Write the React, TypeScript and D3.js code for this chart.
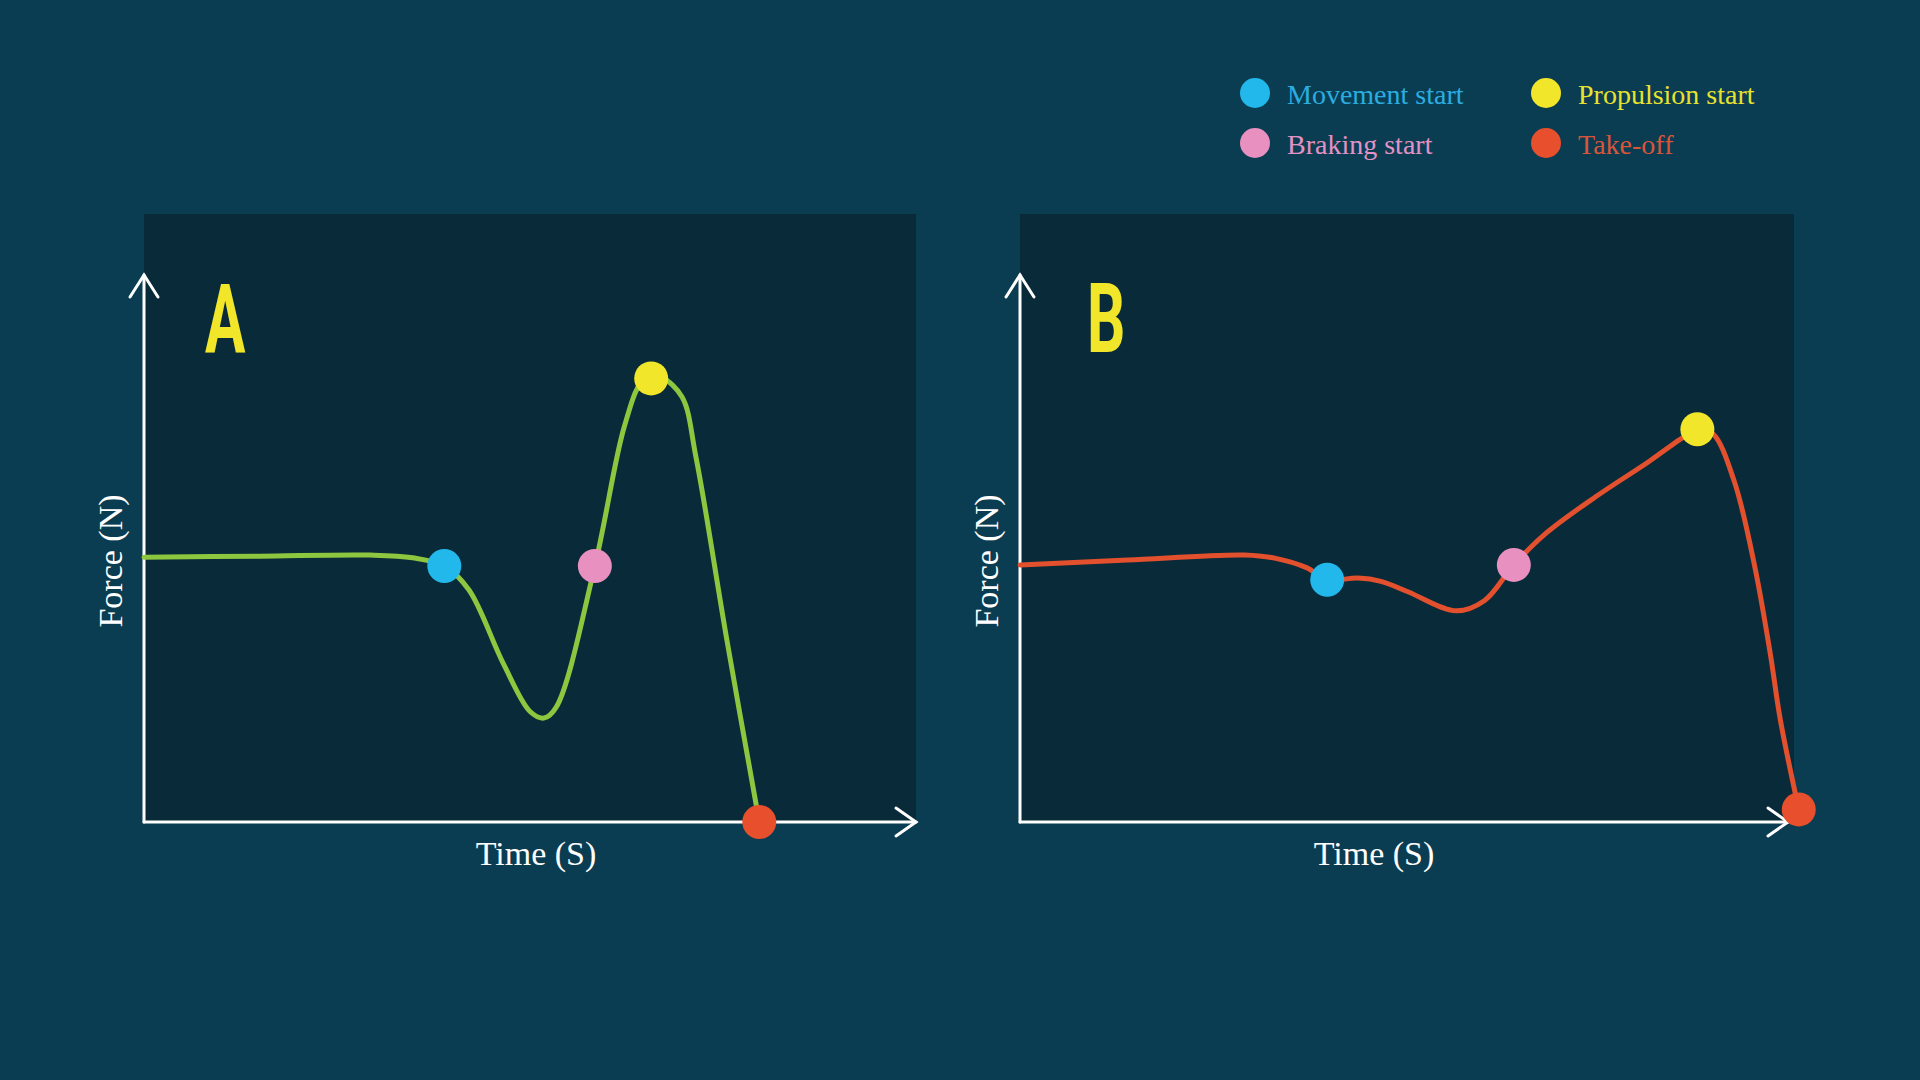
import React, { useEffect, useRef } from "react";
import * as d3 from "d3";

// curve A (green) – time / force, arbitrary units 0..100
const timeA = [0, 15, 29.3, 34.8, 38.9, 42.1, 46.5, 50, 51.8, 53.4, 58.4, 62.2, 64.4, 65.7, 67.1, 69.7, 71.5, 75.5, 79.7];
const forceA = [48.4, 48.6, 48.8, 48.3, 46.8, 42.4, 29.1, 20.2, 19, 21, 46.8, 72.2, 80.3, 81.1, 81.2, 77.7, 66.7, 33.3, 0];

// curve B (red)
const timeB = [0, 14, 29.3, 33.3, 37.3, 40, 44, 47, 50.5, 56.8, 60.5, 64.3, 68.5, 75, 82, 86, 88.2, 90.2, 93, 95.7, 97.7, 99, 101.4];
const forceB = [47, 47.9, 48.8, 48.2, 46.5, 44.3, 44.6, 44, 42.1, 38.6, 40.5, 47, 52.8, 59.5, 66, 70, 71.8, 71, 62.3, 46.5, 30.7, 18.7, 2.3];

// events: movement start, braking start, propulsion start, take-off
const eventNames = ["Movement start", "Braking start", "Propulsion start", "Take-off"];
const eventColors = ["#22b8ec", "#e890c0", "#f1e629", "#e8502d"];
const eventTextColors = ["#2aaee0", "#e292c4", "#e8e22e", "#d9553a"];
const eventTimeA = [38.9, 58.4, 65.7, 79.7];
const eventForceA = [46.8, 46.8, 81.1, 0];
const eventTimeB = [40, 64.3, 88.2, 101.4];
const eventForceB = [44.3, 47, 71.8, 2.3];

const panelLetters = ["A", "B"];
const xLabel = "Time (S)";
const yLabel = "Force (N)";

const W = 1920;
const H = 1080;
const serif = "'Liberation Serif', 'Times New Roman', serif";

const App: React.FC = () => {
  const svgRef = useRef<SVGSVGElement | null>(null);

  useEffect(() => {
    const svg = d3.select(svgRef.current).attr("viewBox", `0 0 ${W} ${H}`);
    svg.selectAll("*").remove();

    svg.append("rect").attr("width", W).attr("height", H).attr("fill", "#0b3d52");

    const panels = [
      {
        left: 144, tip: 916, right: 916, top: 214, axisY: 822, yTip: 275,
        time: timeA, force: forceA, color: "#8dc63f",
        evT: eventTimeA, evF: eventForceA, timeX: 536, letterX: 205,
      },
      {
        left: 1020, tip: 1788, right: 1794, top: 214, axisY: 822, yTip: 275,
        time: timeB, force: forceB, color: "#e2502e",
        evT: eventTimeB, evF: eventForceB, timeX: 1374, letterX: 1087,
      },
    ];

    panels.forEach((p, pi) => {
      const g = svg.append("g");

      g.append("rect")
        .attr("x", p.left)
        .attr("y", p.top)
        .attr("width", p.right - p.left)
        .attr("height", p.axisY - p.top)
        .attr("fill", "#092a38");

      const x = d3.scaleLinear().domain([0, 100]).range([p.left, p.tip]);
      const y = d3.scaleLinear().domain([0, 100]).range([p.axisY, p.yTip]);

      // axes with open arrow heads
      const axisStyle = (s: any) => s.attr("stroke", "#ffffff").attr("stroke-width", 3).attr("fill", "none").attr("stroke-linecap", "round");
      g.append("line").attr("x1", x(0)).attr("x2", x(100)).attr("y1", y(0)).attr("y2", y(0)).call(axisStyle);
      g.append("line").attr("x1", x(0)).attr("x2", x(0)).attr("y1", y(0)).attr("y2", y(100)).call(axisStyle);
      g.append("path")
        .attr("d", `M${x(100) - 20},${y(0) - 14}L${x(100)},${y(0)}L${x(100) - 20},${y(0) + 14}`)
        .call(axisStyle);
      g.append("path")
        .attr("d", `M${x(0) - 14},${y(100) + 22}L${x(0)},${y(100)}L${x(0) + 14},${y(100) + 22}`)
        .call(axisStyle);

      g.append("text")
        .attr("transform", `translate(${p.letterX},352) scale(0.62,1)`)
        .attr("font-family", "Roboto, 'DejaVu Sans', sans-serif")
        .attr("font-weight", 700)
        .attr("font-size", 97)
        .attr("fill", "#f1e629")
        .text(panelLetters[pi]);

      g.append("text")
        .attr("x", p.timeX)
        .attr("y", 865)
        .attr("text-anchor", "middle")
        .attr("font-family", serif)
        .attr("font-size", 34)
        .attr("fill", "#ffffff")
        .text(xLabel);

      g.append("text")
        .attr("transform", `translate(${p.left - 22},561) rotate(-90)`)
        .attr("text-anchor", "middle")
        .attr("font-family", serif)
        .attr("font-size", 34)
        .attr("fill", "#ffffff")
        .text(yLabel);

      const line = d3
        .line<number>()
        .x((_, i) => x(p.time[i]))
        .y((d) => y(d))
        .curve(d3.curveCatmullRom.alpha(0.5));

      g.append("path")
        .datum(p.force)
        .attr("fill", "none")
        .attr("stroke", p.color)
        .attr("stroke-width", 5)
        .attr("stroke-linecap", "round")
        .attr("stroke-linejoin", "round")
        .attr("d", line);

      g.selectAll("circle.ev")
        .data(p.evT)
        .join("circle")
        .attr("class", "ev")
        .attr("cx", (d) => x(d))
        .attr("cy", (_, i) => y(p.evF[i]))
        .attr("r", 17)
        .attr("fill", (_, i) => eventColors[i]);
    });

    // legend, two columns
    const legendX = [1255, 1255, 1546, 1546];
    const legendY = [93, 143, 93, 143];
    const lg = svg.append("g");
    eventNames.forEach((name, k) => {
      lg.append("circle").attr("cx", legendX[k]).attr("cy", legendY[k]).attr("r", 15).attr("fill", eventColors[k]);
      lg.append("text")
        .attr("x", legendX[k] + 32)
        .attr("y", legendY[k] + 11)
        .attr("font-family", serif)
        .attr("font-size", 28)
        .attr("fill", eventTextColors[k])
        .text(name);
    });
  }, []);

  return (
    <div style={{ position: "absolute", left: 0, top: 0, width: W, height: H }}>
      <svg ref={svgRef} width={W} height={H} style={{ display: "block" }} />
    </div>
  );
};

export default App;
